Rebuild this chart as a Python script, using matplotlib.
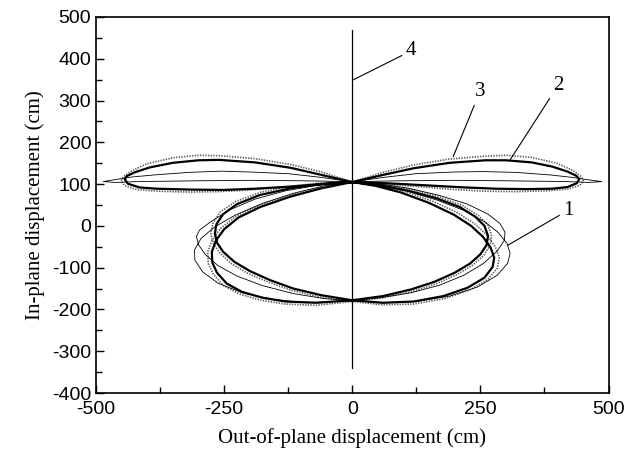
import matplotlib
matplotlib.use("Agg")
import matplotlib.pyplot as plt
from matplotlib.ticker import MultipleLocator

plt.rcParams["axes.unicode_minus"] = False

# ---- trajectory data (cm): out-of-plane (x) vs in-plane (y) ----
# Curve 1 (thin solid): right lobe, left lobe, lower loop A, lower loop B
c1_x = [0, 60, 125, 200, 256, 320, 386, 430, 462, 487, 462, 420, 360, 300, 200, 100, 50, 0,
        -60, -125, -200, -256, -320, -386, -430, -462, -486, -462, -420, -360, -300, -200, -100, -50, 0,
        -65, -130, -190, -240, -276, -298, -304, -300, -287, -262, -225, -175, -115, -55, 0,
        60, 125, 190, 245, 283, 303, 308, 302, 285, 258, 218, 165, 105, 50, 0,
        -55, -115, -175, -228, -268, -295, -308, -307, -292, -262, -215, -155, -90, 0,
        55, 115, 170, 218, 256, 283, 297, 298, 288, 265, 225, 170, 110, 55, 0]
c1_y = [105, 116, 125, 129, 130, 128, 122, 116, 110, 106, 104, 106, 107, 108, 109, 108, 107, 105,
        116, 125, 129, 131, 128, 122, 117, 111, 106, 104, 106, 107, 108, 109, 108, 107, 105,
        98, 84, 64, 38, 10, -10, -25, -45, -68, -95, -120, -143, -162, -174, -179,
        -184, -181, -168, -146, -118, -90, -66, -42, -16, 10, 37, 62, 84, 98, 105,
        96, 78, 54, 26, -2, -30, -58, -82, -110, -137, -160, -176, -184, -179,
        -172, -160, -142, -118, -90, -60, -34, -15, 6, 28, 52, 73, 90, 100, 105]

# Curve 2 (thick solid)
c2_x = [0, 60, 120, 190, 260, 300, 350, 390, 420, 437, 443, 438, 420, 390, 340, 280, 220, 160, 100, 50, 0,
        -60, -120, -190, -260, -300, -350, -395, -425, -440, -444, -438, -415, -382, -320, -252, -190, -121, -60, 0,
        -60, -120, -180, -225, -252, -265, -268, -264, -252, -230, -200, -160, -115, -60, 0,
        60, 120, 178, 225, 258, 274, 277, 270, 255, 232, 198, 150, 95, 45, 0,
        -60, -121, -180, -222, -250, -266, -274, -273, -264, -245, -215, -175, -130, -70, 0,
        60, 115, 160, 200, 230, 250, 262, 265, 258, 240, 210, 165, 110, 55, 0]
c2_y = [105, 122, 138, 151, 157, 157, 152, 142, 130, 120, 112, 102, 93, 89, 88, 89, 92, 96, 100, 103, 105,
        122, 139, 152, 158, 157, 151, 140, 128, 119, 112, 101, 92, 89, 87, 86, 89, 94, 100, 105,
        100, 90, 74, 52, 28, 4, -18, -40, -62, -86, -108, -130, -150, -166, -178,
        -184, -181, -168, -148, -124, -98, -76, -52, -26, 0, 27, 55, 80, 96, 105,
        90, 70, 45, 20, -8, -35, -62, -88, -112, -138, -158, -172, -181, -184, -178,
        -168, -152, -134, -112, -90, -68, -46, -24, 0, 22, 45, 66, 84, 97, 105]

# Curve 3 (dotted)
c3_x = [0, 60, 120, 190, 260, 300, 350, 399, 430, 447, 451, 444, 420, 380, 320, 260, 200, 130, 65, 0,
        -60, -120, -190, -260, -300, -350, -400, -430, -447, -451, -444, -420, -380, -320, -260, -200, -130, -65, 0,
        -60, -120, -180, -228, -258, -272, -276, -271, -258, -236, -205, -163, -117, -60, 0,
        60, 120, 180, 230, 265, 283, 287, 279, 263, 238, 203, 155, 98, 47, 0,
        -58, -120, -183, -227, -257, -274, -282, -281, -271, -251, -220, -178, -132, -70, 0,
        60, 117, 163, 205, 236, 257, 269, 272, 265, 246, 215, 168, 112, 56, 0]
c3_y = [105, 128, 146, 160, 167, 169, 164, 150, 133, 118, 108, 97, 88, 84, 82, 83, 87, 94, 100, 105,
        129, 147, 161, 168, 169, 163, 149, 132, 117, 108, 96, 87, 83, 81, 82, 86, 93, 99, 105,
        103, 95, 80, 58, 33, 6, -18, -42, -65, -90, -113, -135, -155, -171, -181,
        -189, -187, -174, -153, -128, -101, -76, -50, -22, 6, 33, 60, 84, 98, 105,
        93, 74, 49, 23, -6, -35, -63, -90, -116, -143, -163, -178, -187, -190, -181,
        -172, -157, -139, -116, -93, -70, -47, -24, 2, 25, 49, 70, 88, 100, 105]

# Curve 4 (vertical trace)
c4_x = [0, 0]
c4_y = [-340, 470]

# Curve labels: text position and the point each leader line reaches
lab_text = ["1", "2", "3", "4"]
lab_pos = [(422, 38), (402, 337), (249, 321), (115, 419)]
lab_tip = [(304, -46), (308, 158), (197, 166), (1, 349)]

x_ticks = [-500, -250, 0, 250, 500]
y_ticks = [-400, -300, -200, -100, 0, 100, 200, 300, 400, 500]

fig = plt.figure(figsize=(6.25, 4.58), dpi=100)
ax = fig.add_axes([0.1536, 0.1419, 0.82, 0.821])

ax.plot(c3_x, c3_y, color="0.35", lw=1.2, linestyle=(0, (0.8, 0.8)), zorder=2)
ax.plot(c1_x, c1_y, color="black", lw=0.6, solid_joinstyle="round", zorder=3)
ax.plot(c2_x, c2_y, color="black", lw=1.6, solid_joinstyle="round", zorder=4)
ax.plot(c4_x, c4_y, color="black", lw=0.9, zorder=5)

for t, p, q in zip(lab_text, lab_pos, lab_tip):
    ax.annotate(t, xy=q, xytext=p, ha="center", va="center",
                fontsize=15, family="Liberation Serif",
                arrowprops=dict(arrowstyle="-", lw=0.8, color="black",
                                shrinkA=1, shrinkB=0))

ax.set_xlim(-500, 500)
ax.set_ylim(-400, 500)
ax.set_xticks(x_ticks)
ax.set_yticks(y_ticks)
ax.xaxis.set_minor_locator(MultipleLocator(125))
ax.yaxis.set_minor_locator(MultipleLocator(50))
ax.tick_params(which="both", direction="in", top=False, right=False,
               labelsize=14, width=1.0)
ax.tick_params(which="major", length=6)
ax.tick_params(which="minor", length=4)
ax.tick_params(axis="x", pad=6)
for lbl in ax.get_xticklabels() + ax.get_yticklabels():
    lbl.set_family("Liberation Sans")
for s in ax.spines.values():
    s.set_linewidth(1.2)

ax.set_xlabel("Out-of-plane displacement (cm)", fontsize=15,
              family="Liberation Serif", labelpad=7)
ax.set_ylabel("In-plane displacement (cm)", fontsize=15,
              family="Liberation Serif", labelpad=5)

fig.savefig("out.png", dpi=100)
